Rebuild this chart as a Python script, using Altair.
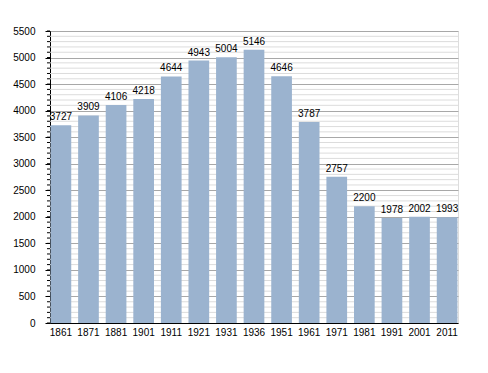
import altair as alt
import pandas as pd

years = ["1861", "1871", "1881", "1901", "1911", "1921", "1931", "1936",
         "1951", "1961", "1971", "1981", "1991", "2001", "2011"]
population = [3727, 3909, 4106, 4218, 4644, 4943, 5004, 5146,
              4646, 3787, 2757, 2200, 1978, 2002, 1993]
major_ticks = list(range(0, 5501, 500))
minor_ticks = [v for v in range(0, 5501, 100) if v % 500 != 0]
all_ticks = list(range(0, 5501, 100))

FONT = "Liberation Sans"
df = pd.DataFrame({"year": years, "pop": population})
minor_df = pd.DataFrame({"pop": minor_ticks})
tick_df = pd.DataFrame({"pop": all_ticks})

yscale = alt.Scale(domain=[0, 5500], nice=False, zero=True)
yaxis = alt.Axis(title=None, values=major_ticks, grid=True, format="d",
                 gridColor="#a8a8a8", gridWidth=1,
                 tickSize=5, tickColor="#000", labelPadding=10,
                 labelFont=FONT, labelFontSize=10, labelColor="#000",
                 domainColor="#000", domainWidth=1)
xaxis = alt.Axis(title=None, labelAngle=0, ticks=False, labelPadding=4,
                 labelFont=FONT, labelFontSize=10, labelColor="#000",
                 domainColor="#000", domainWidth=1)
xscale = alt.Scale(paddingInner=0.25, paddingOuter=0.02)

bars = alt.Chart(df).mark_bar(color="#9bb3cf").encode(
    x=alt.X("year:N", sort=years, scale=xscale, axis=xaxis),
    y=alt.Y("pop:Q", scale=yscale, axis=yaxis),
)

minor_grid = alt.Chart(minor_df).mark_rule(color="#dcdcdc", strokeWidth=1).encode(
    y=alt.Y("pop:Q", scale=yscale, axis=yaxis),
    x=alt.value(0), x2=alt.value(408),
)

minor_axis_ticks = alt.Chart(tick_df).mark_rule(color="#000000", strokeWidth=1).encode(
    y=alt.Y("pop:Q", scale=yscale, axis=yaxis),
    x=alt.value(-3), x2=alt.value(0),
)

labels = alt.Chart(df).mark_text(baseline="bottom", dy=-3, font=FONT,
                                 fontSize=10, color="#000").encode(
    x=alt.X("year:N", sort=years, scale=xscale, axis=xaxis),
    y=alt.Y("pop:Q", scale=yscale, axis=yaxis),
    text=alt.Text("pop:Q", format="d"),
)

chart = alt.layer(minor_grid, bars, minor_axis_ticks, labels).properties(
    width=408, height=292,
    autosize=alt.AutoSizeParams(type="none"),
    padding={"left": 42, "top": 23, "right": 22, "bottom": 42},
).configure_view(stroke=None).configure(background="white")

chart.save("out.html", embed_options={"renderer": "svg", "actions": False})
